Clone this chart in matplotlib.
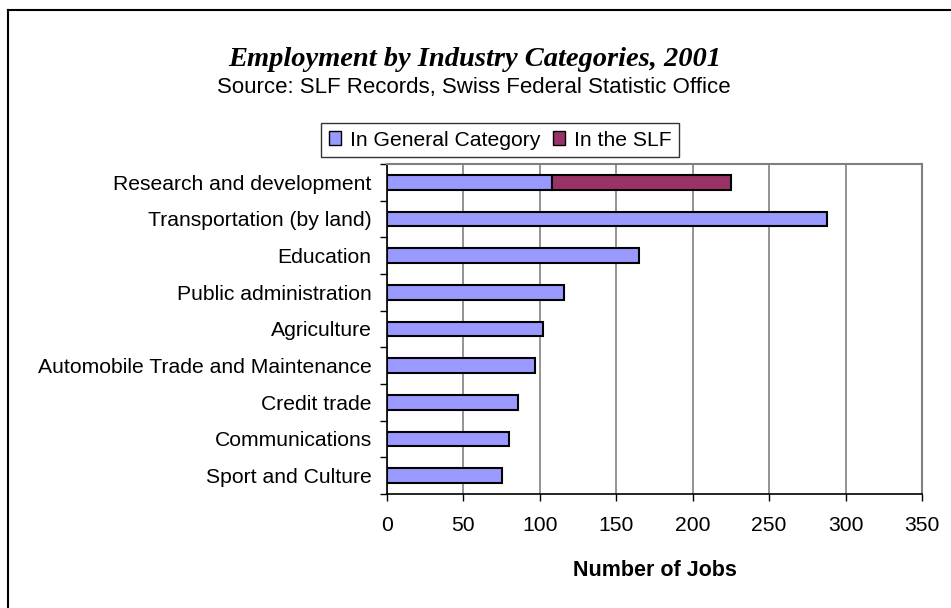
import matplotlib
matplotlib.use("Agg")
from matplotlib import pyplot as plt
from matplotlib.lines import Line2D
from matplotlib.patches import Patch
import numpy as np

# industry categories, top to bottom
categories = [
    "Research and development",
    "Transportation (by land)",
    "Education",
    "Public administration",
    "Agriculture",
    "Automobile Trade and Maintenance",
    "Credit trade",
    "Communications",
    "Sport and Culture",
]
# jobs in the general category
general_jobs = [108, 288, 165, 116, 102, 97, 86, 80, 75]
# jobs in the SLF (stacked on top of the general value)
slf_jobs = [117, 0, 0, 0, 0, 0, 0, 0, 0]
x_ticks = [0, 50, 100, 150, 200, 250, 300, 350]

plt.rcParams["font.family"] = ["Liberation Sans", "DejaVu Sans"]

W, H = 951, 608
fig = plt.figure(figsize=(W / 100, H / 100), dpi=100)
left, right, top, bottom = 387, 922, 164, 494
ax = fig.add_axes([left / W, 1 - bottom / H, (right - left) / W, (bottom - top) / H])

n = len(categories)
pos = np.arange(n)
ax.barh(pos, general_jobs, height=0.4, color="#9999FF", edgecolor="black",
        linewidth=1.5, zorder=3, label="In General Category")
slf_pos = [p for p, v in zip(pos, slf_jobs) if v > 0]
slf_left = [g for g, v in zip(general_jobs, slf_jobs) if v > 0]
slf_vals = [v for v in slf_jobs if v > 0]
ax.barh(slf_pos, slf_vals, left=slf_left, height=0.4, color="#993366",
        edgecolor="black", linewidth=1.5, zorder=3, label="In the SLF")

ax.set_ylim(n - 0.5, -0.5)
ax.set_xlim(0, 350)

# category labels sit between the tick marks
ax.set_yticks(np.arange(-0.5, n, 1))
ax.set_yticklabels([])
ax.set_yticks(pos, minor=True)
ax.set_yticklabels(categories, minor=True, fontsize=15.2)
ax.tick_params(axis="y", which="major", length=5, width=1, direction="out")
ax.tick_params(axis="y", which="minor", length=0, pad=11)

ax.set_xticks(x_ticks)
ax.set_xticklabels([str(t) for t in x_ticks], fontsize=15.2)
ax.tick_params(axis="x", length=5, width=1, direction="out", pad=11)

ax.xaxis.grid(True, color="#808080", linewidth=1.2, zorder=0)
ax.set_axisbelow(True)
for side in ["top", "right"]:
    ax.spines[side].set_color("#808080")
    ax.spines[side].set_linewidth(1.5)
for side in ["left", "bottom"]:
    ax.spines[side].set_color("black")
    ax.spines[side].set_linewidth(1.2)

ax.set_xlabel("Number of Jobs", fontsize=15.5, fontweight="bold", labelpad=18)

fig.text(475 / W, 1 - 59 / H, "Employment by Industry Categories, 2001",
         ha="center", va="center", fontsize=20.5, fontweight="bold",
         fontstyle="italic", family="Liberation Serif")
fig.text(474 / W, 1 - 87 / H, "Source: SLF Records, Swiss Federal Statistic Office",
         ha="center", va="center", fontsize=16)

handles = [Patch(facecolor="#9999FF", edgecolor="black"),
           Patch(facecolor="#993366", edgecolor="black")]
leg = fig.legend(handles, ["In General Category", "In the SLF"], ncol=2,
                 loc="center", bbox_to_anchor=(500 / W, 1 - 140 / H),
                 fontsize=15.2, fancybox=False, frameon=True, edgecolor="black",
                 handlelength=0.6, handleheight=0.6, handletextpad=0.4,
                 columnspacing=0.6, borderpad=0.35)
leg.get_frame().set_linewidth(1)

# outer chart border
fig.add_artist(Line2D([8 / W, 8 / W], [0, 1 - 10 / H], color="black", lw=1.5))
fig.add_artist(Line2D([8 / W, 1], [1 - 10 / H, 1 - 10 / H], color="black", lw=1.5))

fig.savefig("out.png", dpi=100)
